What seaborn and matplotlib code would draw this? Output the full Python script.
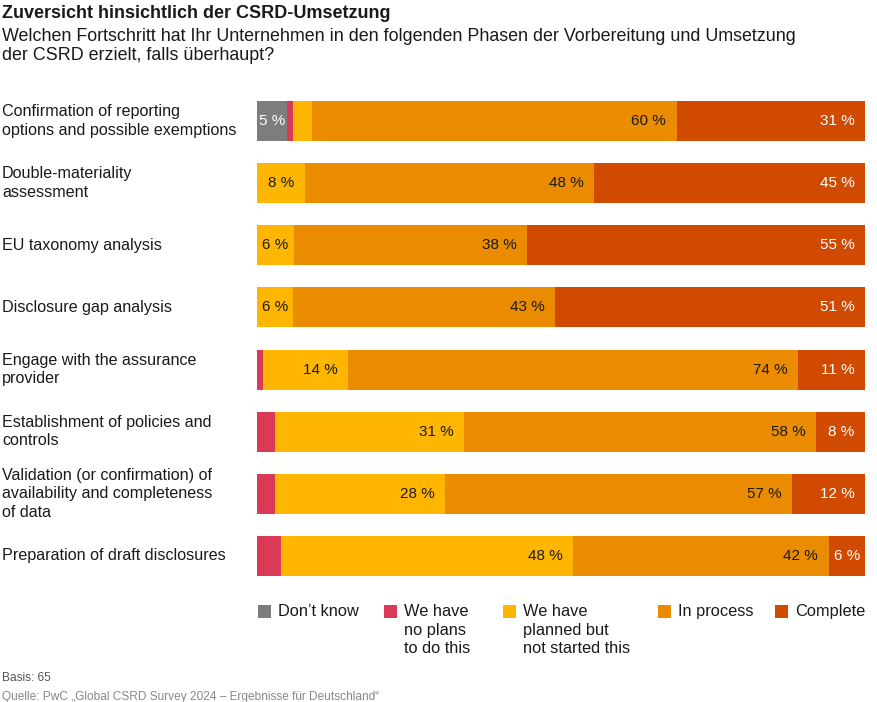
import matplotlib
matplotlib.use('Agg')
import pandas as pd
import matplotlib.pyplot as plt
import matplotlib.transforms as mtransforms
from matplotlib.patches import Rectangle
import seaborn as sns

# Chart data (percent of respondents per phase)
categories = [
    "Confirmation of reporting\noptions and possible exemptions",
    "Double-materiality\nassessment",
    "EU taxonomy analysis",
    "Disclosure gap analysis",
    "Engage with the assurance\nprovider",
    "Establishment of policies and\ncontrols",
    "Validation (or confirmation) of\navailability and completeness\nof data",
    "Preparation of draft disclosures",
]
dont_know = [5, 0, 0, 0, 0, 0, 0, 0]
no_plans = [1, 0, 0, 0, 1, 3, 3, 4]
planned = [3, 8, 6, 6, 14, 31, 28, 48]
in_process = [60, 48, 38, 43, 74, 58, 57, 42]
complete = [31, 45, 55, 51, 11, 8, 12, 6]

series_names = ["Don\u2019t know", "We have\nno plans\nto do this",
                "We have\nplanned but\nnot started this", "In process", "Complete"]
colors = ["#7d7d7d", "#db3a56", "#ffb600", "#eb8c00", "#d04a02"]
text_colors = ["white", "#1a1a1a", "#1a1a1a", "#1a1a1a", "white"]

sns.set_style('white')
plt.rcParams['font.family'] = ['Liberation Sans', 'DejaVu Sans']

df = pd.DataFrame({
    'category': categories,
    's0': dont_know, 's1': no_plans, 's2': planned, 's3': in_process, 's4': complete,
})
cols = ['s0', 's1', 's2', 's3', 's4']
# scale each row to the full bar length
totals = df[cols].sum(axis=1)
shares = df[cols].div(totals, axis=0) * 100
cum = shares.cumsum(axis=1)
for c in cols:
    df['cum_' + c] = cum[c]

fig = plt.figure(figsize=(8.78, 7.02), dpi=100)
ax = fig.add_axes([257 / 878, 1 - 587 / 702, 608 / 878, 497 / 702])

# stacked bars: draw the longest cumulative bar first
for j in reversed(range(5)):
    sns.barplot(data=df, x='cum_' + cols[j], y='category', orient='h',
                color=colors[j], saturation=1, width=0.645, linewidth=0, ax=ax)

ax.set_xlim(0, 100)
ax.set_ylim(7.5, -0.5)
ax.axis('off')

# value labels
for i in range(len(categories)):
    for j, c in enumerate(cols):
        val = df[c][i]
        if val < 5:
            continue
        end = cum[c][i]
        start = end - shares[c][i]
        if val < 10:
            ax.text((start + end) / 2, i, f"{val} %", ha='center', va='center',
                    fontsize=11, color=text_colors[j])
        else:
            ax.annotate(f"{val} %", xy=(end, i), xytext=(-7.5, 0), textcoords='offset points',
                        ha='right', va='center', fontsize=11, color=text_colors[j])

# category labels on the left
trans = mtransforms.blended_transform_factory(fig.transFigure, ax.transData)
for i, cat in enumerate(categories):
    ax.text(2 / 878, i, cat, transform=trans, ha='left', va='center',
            fontsize=11.6, color='#1a1a1a', linespacing=1.3)

# titles
fig.text(2 / 878, 1 - 18 / 702, "Zuversicht hinsichtlich der CSRD-Umsetzung",
         fontsize=13, fontweight='bold', color='#1a1a1a', va='baseline')
fig.text(2 / 878, 1 - 28 / 702,
         "Welchen Fortschritt hat Ihr Unternehmen in den folgenden Phasen der Vorbereitung und Umsetzung\nder CSRD erzielt, falls \u00fcberhaupt?",
         fontsize=12.9, color='#1a1a1a', va='top', linespacing=1.15)

# legend
leg_x = [258, 384, 503, 658, 775]
for j in range(5):
    fig.add_artist(Rectangle((leg_x[j] / 878, 1 - 618 / 702), 13 / 878, 13 / 702,
                             transform=fig.transFigure, color=colors[j], linewidth=0))
    fig.text((leg_x[j] + 20) / 878, 1 - 604 / 702, series_names[j], fontsize=11.8,
             color='#1a1a1a', va='top', ha='left', linespacing=1.3)

# footer
fig.text(2 / 878, 1 - 678 / 702, "Basis: 65", fontsize=8.6, color='#555555', va='center')
fig.text(2 / 878, 1 - 697 / 702,
         "Quelle: PwC \u201eGlobal CSRD Survey 2024 \u2013 Ergebnisse f\u00fcr Deutschland\u201c",
         fontsize=8.6, color='#888888', va='center')

fig.savefig('out.png', dpi=100)
